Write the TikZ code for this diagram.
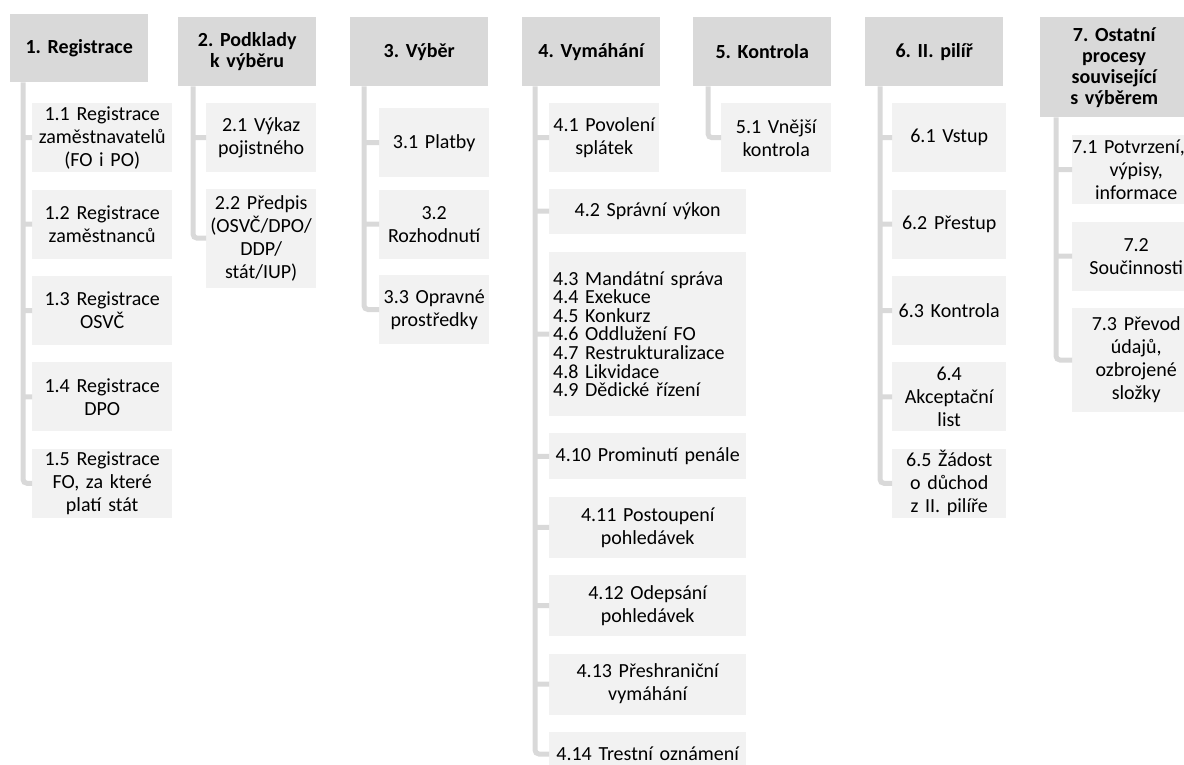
\documentclass[tikz,border=0pt]{standalone}
\usepackage{fontspec}
\setmainfont{Carlito}
\usepackage{tikz}
\usetikzlibrary{positioning}
\definecolor{headgray}{HTML}{D9D9D9}
\definecolor{subgray}{HTML}{F2F2F2}
\definecolor{linegray}{HTML}{D9D9D9}
\newcommand\tightlines{\fontsize{20}{18.6}\selectfont\lineskiplimit=-20pt\relax}
\frenchspacing
\tikzset{
  head/.style={fill=headgray,anchor=north west,inner sep=0pt,align=center,
    font=\fontsize{20}{21}\selectfont\bfseries,minimum height=69pt,text width=138pt},
  sub/.style={fill=subgray,anchor=north west,inner sep=0pt,align=center,
    font=\fontsize{20}{23}\selectfont,minimum height=69pt,text width=110pt},
  conn/.style={draw=linegray,line width=5pt,rounded corners=4pt},
}

\begin{document}
\begin{tikzpicture}[x=1pt,y=-1pt,node distance=17pt]
  \useasboundingbox (0,0) rectangle (1184,764);
  \clip (0,0) rectangle (1184,764);
  % headers
  \node(h1)[head,minimum height=68pt] at (10,14) {1. Registrace};
  \node(h2)[head] at (178,17) {2. Podklady\\k výběru};
  \node(h3)[head] at (350,17) {3. Výběr};
  \node(h4)[head] at (522,17) {4. Vymáhání};
  \node(h5)[head] at (693,17) {5. Kontrola};
  \node(h6)[head] at (865,17) {6. II. pilíř};
  \node(h7)[head,text width=148pt,minimum height=100pt] at (1040,17) {7. Ostatní\\procesy\\související\\s výběrem};
  % 1
  \node(c11)[sub,text width=140pt] at (32,103) {1.1 Registrace\\zaměstnavatelů\\(FO i PO)};
  \node(c12)[below=of c11.south west,sub,text width=140pt] {1.2 Registrace\\zaměstnanců};
  \node(c13)[below=of c12.south west,sub,text width=140pt] {1.3 Registrace\\OSVČ};
  \node(c14)[below=of c13.south west,sub,text width=140pt] {1.4 Registrace\\DPO};
  \node(c15)[below=of c14.south west,sub,text width=140pt] {1.5 Registrace\\FO, za které\\platí stát};
  % 2
  \node(c21)[sub] at (206,103) {2.1 Výkaz\\pojistného};
  \node(c22)[below=16pt of c21.south west,sub,minimum height=99pt] {2.2 Předpis\\(OSVČ/DPO/\\DDP/\\stát/IUP)};
  % 3
  \node(c31)[sub] at (379,108) {3.1 Platby};
  \node(c32)[below=12pt of c31.south west,sub] {3.2\\Rozhodnutí};
  \node(c33)[below=16pt of c32.south west,sub] {3.3 Opravné\\prostředky};
  % 4
  \node(c41)[sub] at (549,103) {4.1 Povolení\\splátek};
  \node(c42)[below=16pt of c41.south west,sub,text width=197pt,minimum height=45pt] {4.2 Správní výkon};
  \node(c43)[below=18pt of c42.south west,sub,inner xsep=4pt,text width=189pt,minimum height=164pt,align=left,font=\tightlines]
    {4.3 Mandátní správa\\4.4 Exekuce\\4.5 Konkurz\\4.6 Oddlužení FO\\4.7 Restrukturalizace\\4.8 Likvidace\\4.9 Dědické řízení};
  \node(c410)[below=of c43.south west,sub,text width=197pt,minimum height=46pt] {4.10 Prominutí penále};
  \node(c411)[below=of c410.south west,sub,text width=197pt,minimum height=61pt] {4.11 Postoupení\\pohledávek};
  \node(c412)[below=of c411.south west,sub,text width=197pt,minimum height=61pt] {4.12 Odepsání\\pohledávek};
  \node(c413)[below=of c412.south west,sub,text width=197pt,minimum height=61pt] {4.13 Přeshraniční\\vymáhání};
  \node(c414)[below=of c413.south west,sub,text width=197pt,minimum height=44pt] {4.14 Trestní oznámení};
  % 5
  \node(c51)[sub] at (721,103) {5.1 Vnější\\kontrola};
  % 6
  \node(c61)[sub,text width=114pt] at (892,103) {6.1 Vstup};
  \node(c62)[below=of c61.south west,sub,text width=114pt] {6.2 Přestup};
  \node(c63)[below=of c62.south west,sub,text width=114pt] {6.3 Kontrola};
  \node(c64)[below=of c63.south west,sub,text width=114pt] {6.4\\Akceptační\\list};
  \node(c65)[below=of c64.south west,sub,text width=114pt] {6.5 Žádost\\o důchod\\z II. pilíře};
  % 7
  \node(c71)[sub,text width=128pt] at (1072,135) {\makebox[\linewidth][l]{7.1 Potvrzení,}\\výpisy,\\informace};
  \node(c72)[below=of c71.south west,sub,text width=128pt] {7.2\\Součinnosti};
  \node(c73)[below=of c72.south west,sub,text width=128pt,minimum height=104pt] {7.3 Převod\\údajů,\\ozbrojené\\složky};
  % connectors
  \coordinate(t1) at ([xshift=13pt]h1.south west);
  \coordinate(t2) at ([xshift=15pt]h2.south west);
  \coordinate(t3) at ([xshift=14pt]h3.south west);
  \coordinate(t4) at ([xshift=13pt]h4.south west);
  \coordinate(t5) at ([xshift=15pt]h5.south west);
  \coordinate(t6) at ([xshift=15pt]h6.south west);
  \coordinate(t7) at ([xshift=16pt]h7.south west);
  \draw[conn] (t1) |- (c15.west) (t1 |- c11.west) -- (c11.west) (t1 |- c12.west) -- (c12.west)
    (t1 |- c13.west) -- (c13.west) (t1 |- c14.west) -- (c14.west);
  \draw[conn] (t2) |- (c22.west) (t2 |- c21.west) -- (c21.west);
  \draw[conn] (t3) |- (c33.west) (t3 |- c31.west) -- (c31.west) (t3 |- c32.west) -- (c32.west);
  \draw[conn] (t4) |- (c414.west) (t4 |- c41.west) -- (c41.west) (t4 |- c42.west) -- (c42.west)
    (t4 |- c43.west) -- (c43.west) (t4 |- c410.west) -- (c410.west) (t4 |- c411.west) -- (c411.west)
    (t4 |- c412.west) -- (c412.west) (t4 |- c413.west) -- (c413.west);
  \draw[conn] (t5) |- (c51.west);
  \draw[conn] (t6) |- (c65.west) (t6 |- c61.west) -- (c61.west) (t6 |- c62.west) -- (c62.west)
    (t6 |- c63.west) -- (c63.west) (t6 |- c64.west) -- (c64.west);
  \draw[conn] (t7) |- (c73.west) (t7 |- c71.west) -- (c71.west) (t7 |- c72.west) -- (c72.west);
\end{tikzpicture}
\end{document}
